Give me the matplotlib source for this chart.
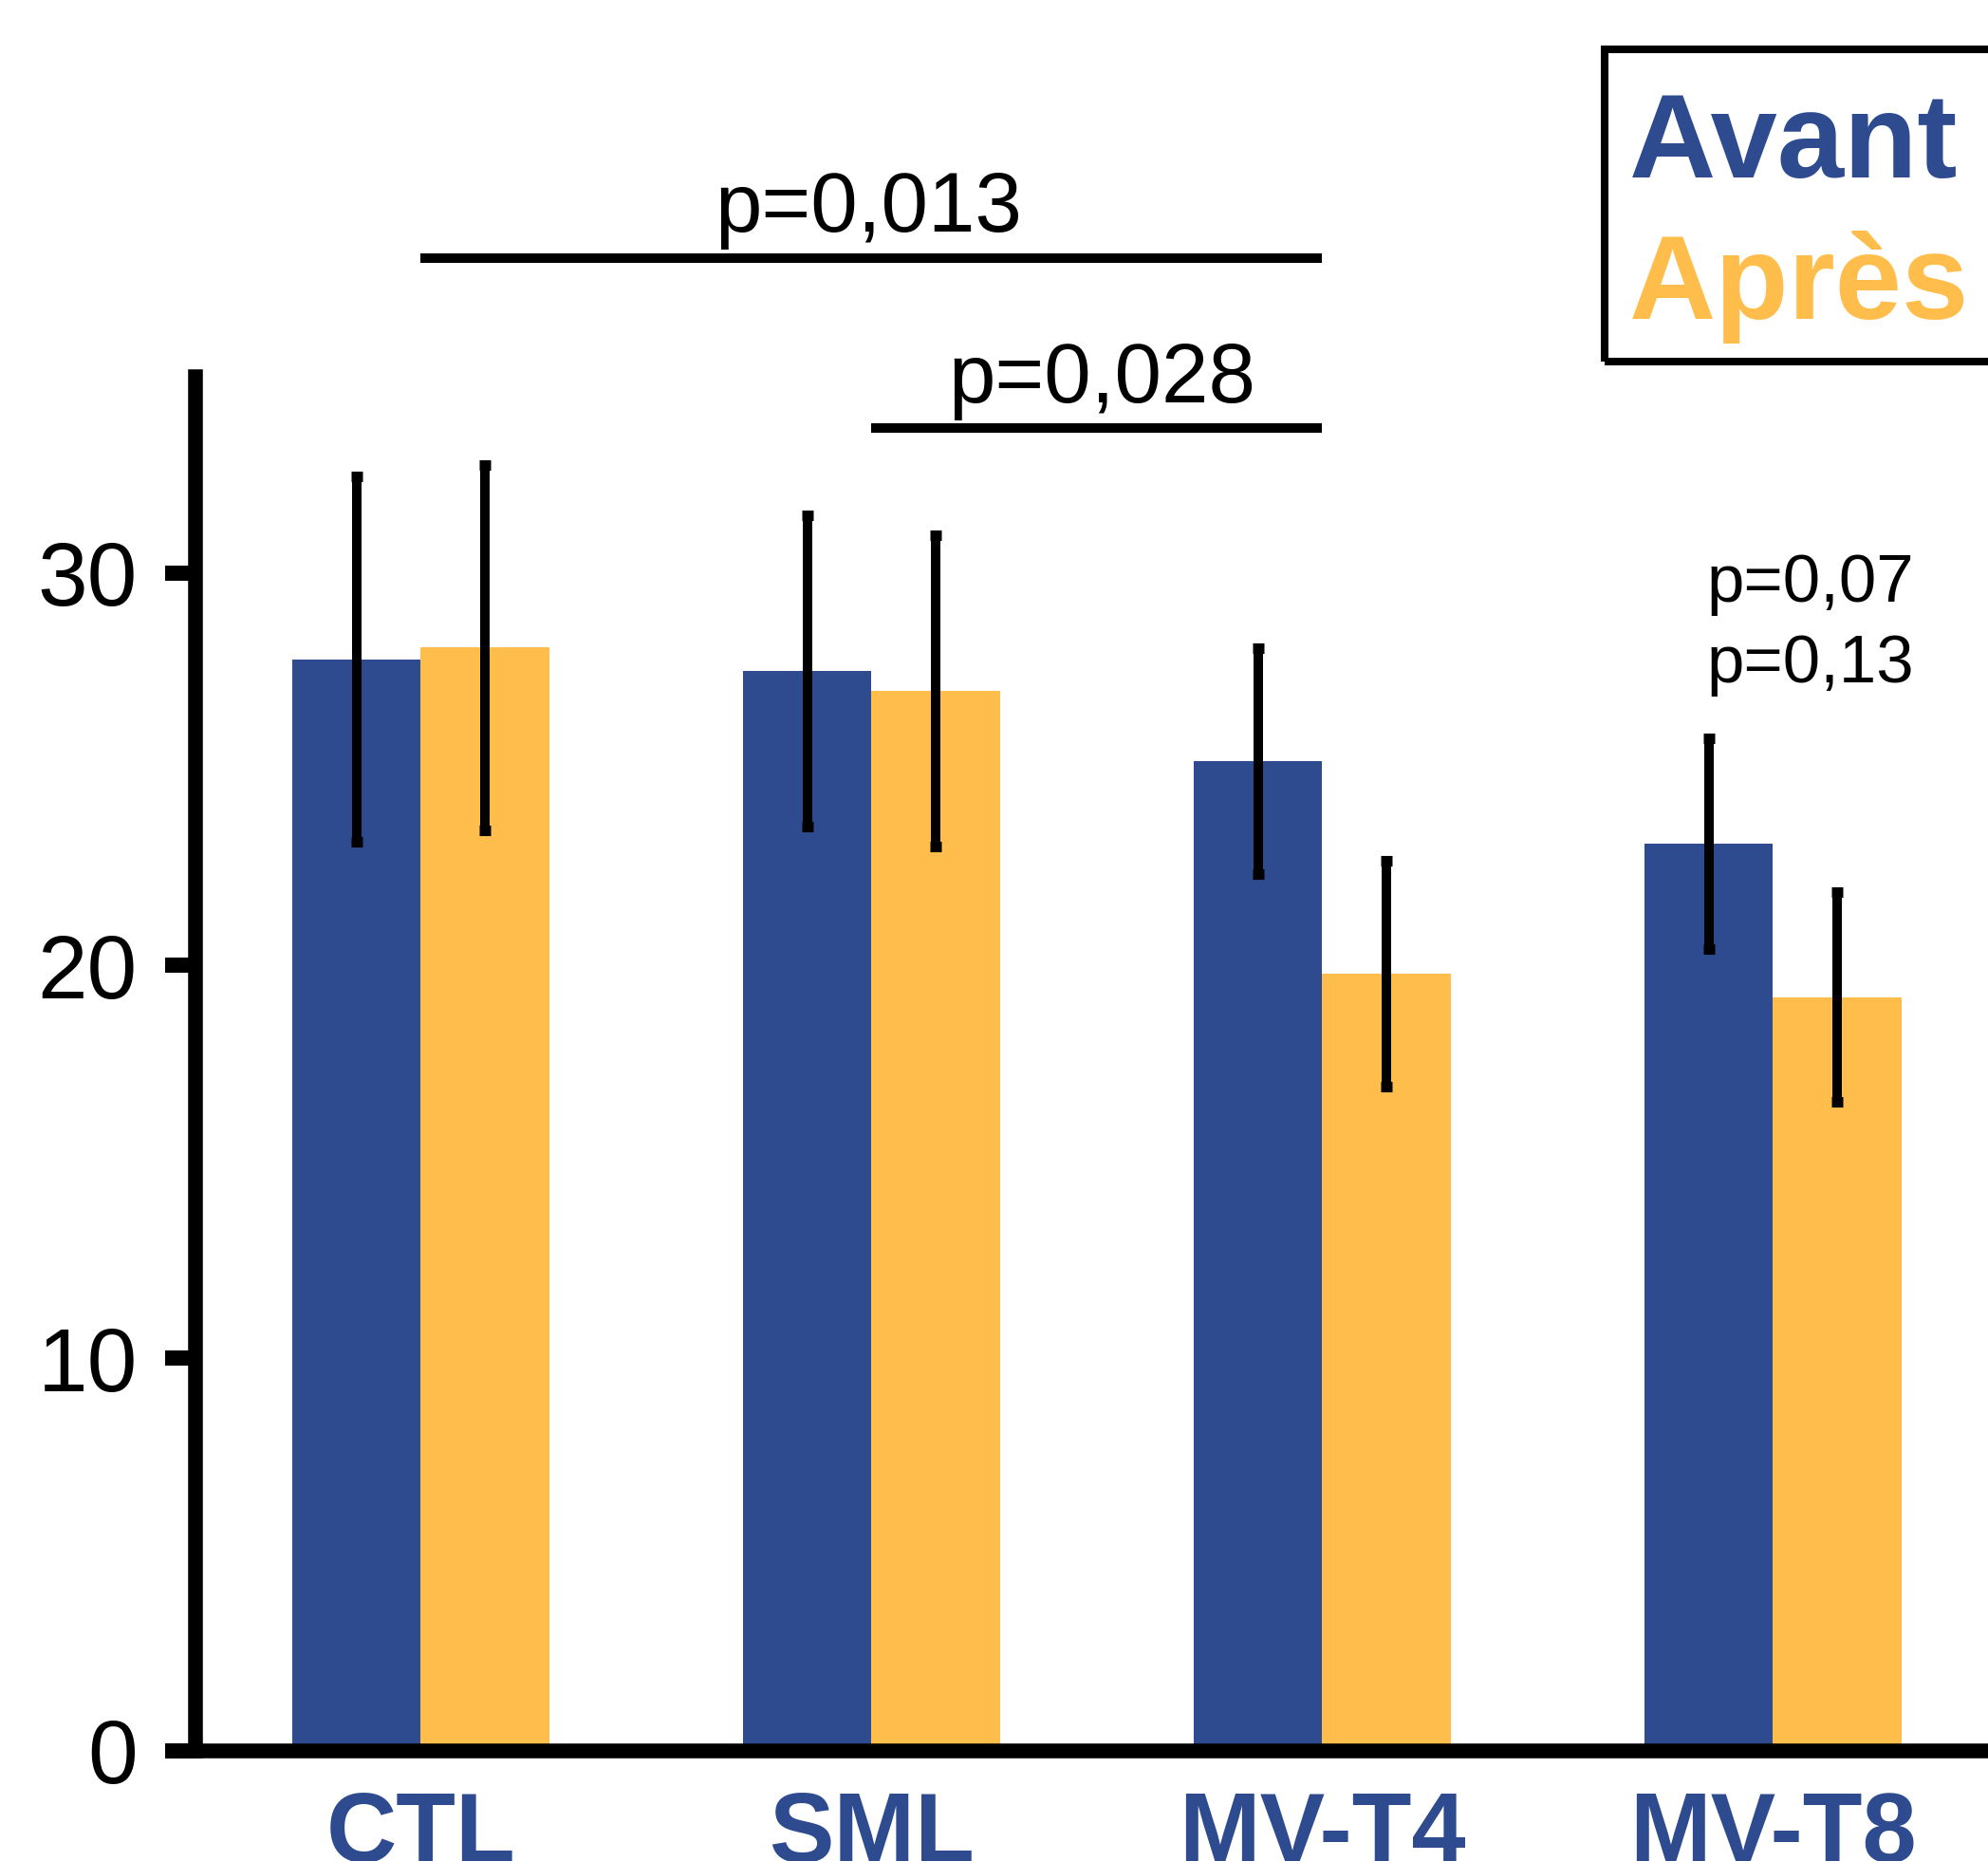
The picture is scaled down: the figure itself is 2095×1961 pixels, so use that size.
import matplotlib
matplotlib.use("Agg")
import matplotlib.pyplot as plt
from matplotlib.patches import Rectangle
import numpy as np

# ── Données ───────────────────────────────────────────────────────────────────
groupes     = ["CTL", "SML", "MV-T4", "MV-T8"]
avant       = [27.8, 27.5, 25.2, 23.1]
apres       = [28.1, 27.0, 19.8, 19.2]
avant_err   = [4.65, 3.96, 2.88, 2.68]
apres_err   = [4.65, 3.96, 2.88, 2.68]
yticks      = [0, 10, 20, 30]
# ─────────────────────────────────────────────────────────────────────────────

BLEU   = "#2F4B90"
ORANGE = "#FFBE4B"
plt.rcParams["font.family"] = ["Liberation Sans", "DejaVu Sans"]

fig = plt.figure(figsize=(20.95, 19.61), dpi=100)
ax = fig.add_axes([0.0983, 0.0592, 1.0 - 0.0983, 0.7976 - 0.0592])

x = np.arange(len(groupes))
w = 0.2855
err_kw = dict(ecolor="black", elinewidth=7.2, capsize=4.6, capthick=8)
ax.bar(x - w / 2, avant, w, color=BLEU, yerr=avant_err, error_kw=err_kw)
ax.bar(x + w / 2, apres, w, color=ORANGE, yerr=apres_err, error_kw=err_kw)

ax.set_xlim(-0.5, 3.477)
ax.set_ylim(0, 35)
ax.set_yticks(yticks)
ax.set_yticklabels([str(t) for t in yticks], fontsize=68)
ax.set_xticks(x)
ax.set_xticklabels(groupes, fontsize=74, fontweight="bold", color=BLEU)
ax.tick_params(axis="y", length=23, width=11.5, pad=21)
ax.tick_params(axis="x", length=0, pad=30)

for s in ["top", "right"]:
    ax.spines[s].set_visible(False)
for s in ["left", "bottom"]:
    ax.spines[s].set_linewidth(11.2)
    ax.spines[s].set_capstyle("projecting")

# barres de significativité
ax.plot([0, 2], [38.02, 38.02], color="black", lw=7.2, clip_on=False,
        solid_capstyle="butt")
ax.text(0.994, 38.70, "p=0,013", fontsize=64, ha="center", va="baseline")
ax.plot([1, 2], [33.70, 33.70], color="black", lw=7.2, clip_on=False,
        solid_capstyle="butt")
ax.text(1.512, 34.34, "p=0,028", fontsize=64, ha="center", va="baseline")
ax.text(3.082, 29.27, "p=0,07", fontsize=51, ha="center", va="baseline")
ax.text(3.082, 27.21, "p=0,13", fontsize=51, ha="center", va="baseline")

# légende
fig.patches.append(Rectangle((0.8072, 0.8055), 0.3, 0.9735 - 0.8055,
                             transform=fig.transFigure, fill=False,
                             edgecolor="black", linewidth=5.8))
fig.text(0.8196, 0.9048, "Avant", fontsize=91, fontweight="bold", color=BLEU,
         va="baseline", ha="left")
fig.text(0.8196, 0.8287, "Après", fontsize=91, fontweight="bold", color=ORANGE,
         va="baseline", ha="left")

fig.savefig("out.png", dpi=100)
